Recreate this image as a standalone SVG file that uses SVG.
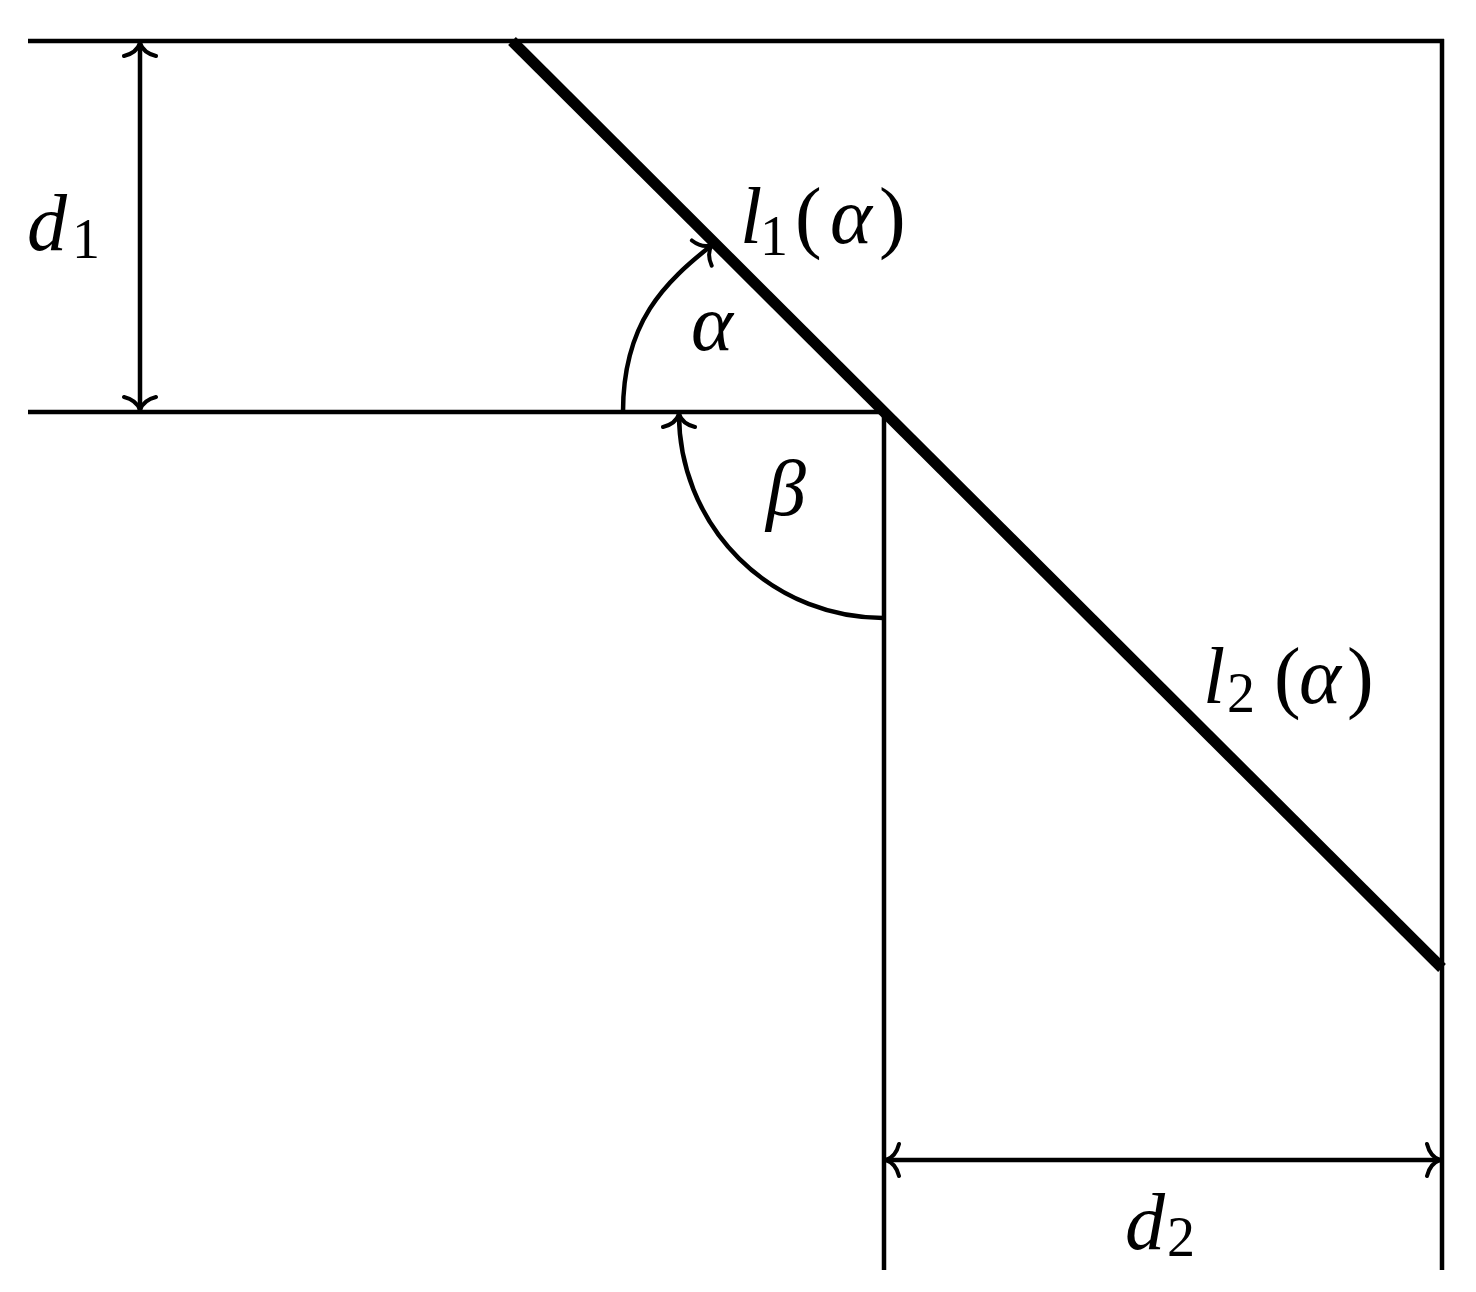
<svg xmlns="http://www.w3.org/2000/svg" width="1476" height="1292" viewBox="0 0 1476 1292">
  <style>
    .thin { stroke: #000; stroke-width: 4.5; fill: none; }
    .thick { stroke: #000; stroke-width: 11; fill: none; stroke-linecap: butt; }
    .dim { stroke: #000; stroke-width: 4.5; fill: none; marker-start: url(#arr); marker-end: url(#arr); }
    .arc { stroke: #000; stroke-width: 4.5; fill: none; marker-end: url(#arr); }
    .m { font-family: "Liberation Serif", "DejaVu Serif", serif; font-style: italic; font-size: 80px; fill: #000; }
    .r { font-family: "Liberation Serif", "DejaVu Serif", serif; font-style: normal; font-size: 80px; fill: #000; }
    .s { font-family: "Liberation Serif", "DejaVu Serif", serif; font-style: normal; font-size: 56px; fill: #000; }
  </style>
  <defs>
    <marker id="arr" viewBox="-20 -20 24 40" refX="0" refY="0" markerWidth="24" markerHeight="40" markerUnits="userSpaceOnUse" orient="auto-start-reverse">
      <path d="M -13 -16 C -11 -8 -6 -2 0 0 C -6 2 -11 8 -13 16" fill="none" stroke="#000" stroke-width="4" stroke-linecap="round"/>
    </marker>
  </defs>

  <g id="walls">
    <line class="thin" x1="28" y1="41" x2="1444" y2="41"/>
    <line class="thin" x1="1442" y1="39" x2="1442" y2="1270"/>
    <line class="thin" x1="28" y1="412" x2="886" y2="412"/>
    <line class="thin" x1="884" y1="410" x2="884" y2="1270"/>
  </g>

  <g id="beam">
    <line class="thick" x1="512" y1="41" x2="1442" y2="968"/>
  </g>

  <g id="connectors">
    <line id="dim-d1" class="dim" x1="140" y1="43" x2="140" y2="410"/>
    <line id="dim-d2" class="dim" x1="886" y1="1160" x2="1440" y2="1160"/>
    <path id="arc-alpha" class="arc" d="M 623 412 C 623 322 665 282 712 245"/>
    <path id="arc-beta" class="arc" d="M 884 618 A 204 204 0 0 1 679 414"/>
  </g>

  <g id="label-d1">
    <text class="m" x="27" y="250">d</text>
    <text class="s" x="72" y="258">1</text>
  </g>
  <g id="label-d2">
    <text class="m" x="1125" y="1249">d</text>
    <text class="s" x="1167" y="1256">2</text>
  </g>
  <g id="label-l1">
    <text class="m" x="740" y="243">l</text>
    <text class="s" x="760" y="255">1</text>
    <text class="r" x="795" y="243">(</text>
    <text class="m" x="830" y="243">α</text>
    <text class="r" x="879" y="243">)</text>
  </g>
  <g id="label-l2">
    <text class="m" x="1203" y="703">l</text>
    <text class="s" x="1227" y="712">2</text>
    <text class="r" x="1274" y="703">(</text>
    <text class="m" x="1299" y="703">α</text>
    <text class="r" x="1347" y="703">)</text>
  </g>
  <g id="label-alpha">
    <text class="m" x="691" y="350">α</text>
  </g>
  <g id="label-beta">
    <text class="m" x="766" y="515">β</text>
  </g>
</svg>
